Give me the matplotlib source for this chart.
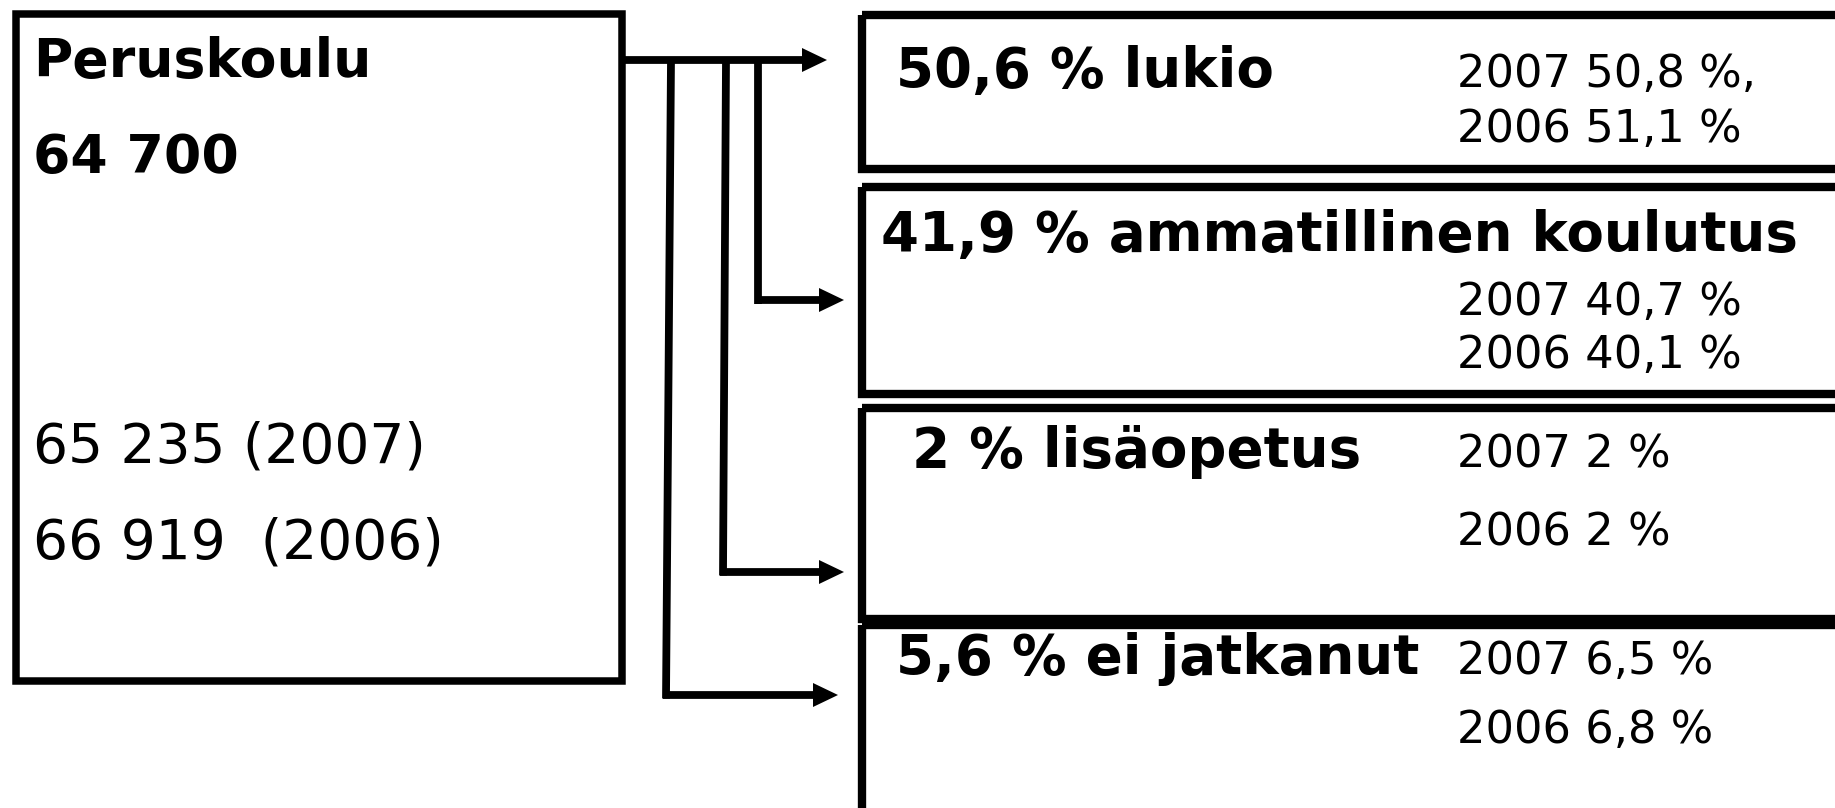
import matplotlib
matplotlib.use("Agg")
import matplotlib.pyplot as plt
from matplotlib.patches import Rectangle, Polygon

# ── content ─────────────────────────────────────────────────────────────────
SOURCE_TITLE = "Peruskoulu"
SOURCE_TOTAL = "64 700"
SOURCE_HISTORY = ["65 235 (2007)", "66 919  (2006)"]

DEST_LABELS = ["50,6 % lukio",
               "41,9 % ammatillinen koulutus",
               "2 % lisäopetus",
               "5,6 % ei jatkanut"]
DEST_2007 = ["2007 50,8 %,", "2007 40,7 %", "2007 2 %", "2007 6,5 %"]
DEST_2006 = ["2006 51,1 %", "2006 40,1 %", "2006 2 %", "2006 6,8 %"]

# ── layout (pixel units, y downwards) ───────────────────────────────────────
W, H = 1835, 808
LEFT_BOX = (15.5, 14, 622, 681)                      # x0, y0, x1, y1
RIGHT_X0 = 862
RIGHT_BOXES = [(15, 169), (187, 394), (408, 618.5), (624.5, 900)]
LABEL_X = [896, 881, 912, 896]
LABEL_BASE = [87, 251, 467, 674]
YEAR_X = 1457
BASE_2007 = [87, 315, 467, 674]
BASE_2006 = [142, 368, 545, 743]

# connector: (x top, x bottom, y of branch, arrow tip x)
TRUNK_Y = 60
BRANCHES = [
    (758, 758, 300, 844),
    (726, 723, 572, 844),
    (671, 666, 695, 838),
]
FONT = "DejaVu Sans"


def arrow(ax, x0, x1, y, lw=5.6, head_len=24, head_half=12):
    ax.plot([x0, x1 - head_len], [y, y], color="black", linewidth=lw,
            solid_capstyle="butt")
    ax.add_patch(Polygon([(x1 - head_len - 1, y - head_half), (x1, y),
                          (x1 - head_len - 1, y + head_half)],
                         closed=True, facecolor="black", edgecolor="none"))


fig = plt.figure(figsize=(W / 100, H / 100), dpi=100)
ax = fig.add_axes([0, 0, 1, 1])
ax.set_xlim(0, W)
ax.set_ylim(H, 0)
ax.axis("off")

# left box
x0, y0, x1, y1 = LEFT_BOX
ax.add_patch(Rectangle((x0, y0), x1 - x0, y1 - y0, fill=False,
                       edgecolor="black", linewidth=5.4, joinstyle="miter"))
ax.text(33, 77, SOURCE_TITLE, fontsize=38.7, fontweight="bold",
        family=FONT, va="baseline")
ax.text(33, 173, SOURCE_TOTAL, fontsize=38.7, fontweight="bold",
        family=FONT, va="baseline")
for txt, base in zip(SOURCE_HISTORY, [462, 558]):
    ax.text(33, base, txt, fontsize=39.6, family=FONT, va="baseline")

# right boxes (cut by the image edge)
for (top, bot) in RIGHT_BOXES:
    ax.add_patch(Rectangle((RIGHT_X0, top), 1200, bot - top, fill=False,
                           edgecolor="black", linewidth=6.0,
                           joinstyle="miter"))

# connectors
arrow(ax, x1, 827, TRUNK_Y)
for xt, xb, yb, tip in BRANCHES:
    ax.plot([xt, xb], [TRUNK_Y, yb + 3.5], color="black", linewidth=5.6,
            solid_capstyle="butt")
    arrow(ax, xb - 3.5, tip, yb)

# labels
for lab, lx, lb in zip(DEST_LABELS, LABEL_X, LABEL_BASE):
    ax.text(lx, lb, lab, fontsize=39.3, fontweight="bold", family=FONT,
            va="baseline")
for t7, t6, b7, b6 in zip(DEST_2007, DEST_2006, BASE_2007, BASE_2006):
    ax.text(YEAR_X, b7, t7, fontsize=32.2, family=FONT, va="baseline")
    ax.text(YEAR_X, b6, t6, fontsize=32.2, family=FONT, va="baseline")

fig.savefig("out.png", dpi=100, facecolor="white")
